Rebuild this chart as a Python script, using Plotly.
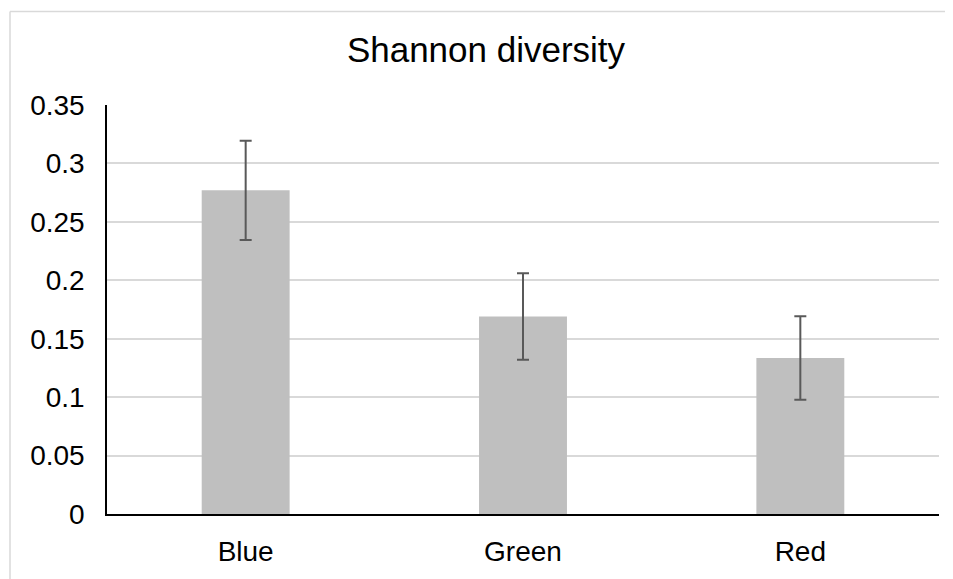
import plotly.graph_objects as go

categories = ["Blue", "Green", "Red"]
values = [0.277, 0.169, 0.1335]
errors = [0.0425, 0.037, 0.0357]
y_ticks = [0, 0.05, 0.1, 0.15, 0.2, 0.25, 0.3, 0.35]
y_tick_labels = ["0", "0.05", "0.1", "0.15", "0.2", "0.25", "0.3", "0.35"]

FONT = "Liberation Sans, Arial, sans-serif"

# page body has an 8px margin, so compensate and keep the figure inside the window
OFF = 8
W, H = 953 - OFF, 579 - OFF
L, T = 107 - OFF, 105 - OFF
R = W - (939 - OFF)
B = H - (516 - OFF)
PW = W - L - R
PH = H - T - B

fig = go.Figure()
fig.add_trace(go.Bar(
    x=categories, y=values,
    marker=dict(color="#BFBFBF", line=dict(width=0)),
    error_y=dict(type="data", array=errors, visible=True,
                 color="#595959", thickness=2, width=6),
))

fig.update_layout(
    width=W, height=H,
    margin=dict(l=L, r=R, t=T, b=B),
    paper_bgcolor="white", plot_bgcolor="white",
    bargap=0.683,
    showlegend=False,
    title=dict(text="Shannon diversity", x=(486 - OFF) / W, xanchor="center",
               xref="container", y=1 - (50 - OFF) / H, yanchor="middle", yref="container",
               font=dict(family=FONT, size=35, color="#000000")),
    font=dict(family=FONT, color="#000000"),
)
fig.update_yaxes(
    range=[0, 0.35], tickvals=y_ticks, ticktext=y_tick_labels,
    showgrid=True, gridcolor="#D9D9D9", gridwidth=1.5,
    showline=True, linecolor="#000000", linewidth=1.5,
    zeroline=False, ticks="", ticklabelstandoff=15,
    tickfont=dict(family=FONT, size=28, color="#000000"),
)
fig.update_xaxes(
    showline=True, linecolor="#000000", linewidth=1.5,
    ticks="", ticklabelstandoff=12,
    tickfont=dict(family=FONT, size=28, color="#000000"),
)

# Chart-area border (light gray), cropped at right and bottom
bx = ((10 - OFF) - L) / PW
by = (PH - ((11 - OFF) - T)) / PH
fig.add_shape(type="line", xref="paper", yref="paper",
              x0=bx, x1=bx, y0=-0.4, y1=by,
              line=dict(color="#D9D9D9", width=1.5))
fig.add_shape(type="line", xref="paper", yref="paper",
              x0=bx, x1=1.2, y0=by, y1=by,
              line=dict(color="#D9D9D9", width=1.5))

fig.write_html("out.html")
